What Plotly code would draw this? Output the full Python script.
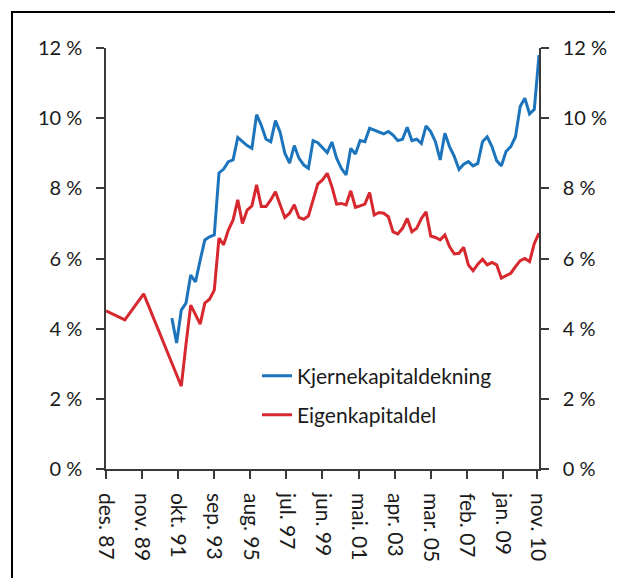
import plotly.graph_objects as go

# ---- data ----
tick_dates = ["1987-12-01", "1989-11-01", "1991-10-01", "1993-09-01", "1995-08-01",
              "1997-07-01", "1999-06-01", "2001-05-01", "2003-04-01", "2005-03-01",
              "2007-02-01", "2009-01-01", "2010-11-01"]
tick_labels = ["des. 87", "nov. 89", "okt. 91", "sep. 93", "aug. 95", "jul. 97", "jun. 99",
               "mai. 01", "apr. 03", "mar. 05", "feb. 07", "jan. 09", "nov. 10"]

quarters = [f"{y}-{m:02d}" for y in range(1991, 2011) for m in (3, 6, 9, 12)]

kjerne_dates = quarters[1:]  # 1991-06 .. 2010-12
kjerne = [4.30, 3.59, 4.53, 4.73, 5.53, 5.33, 5.95, 6.53, 6.62, 6.67,
          8.44, 8.55, 8.76, 8.81, 9.45, 9.33, 9.22, 9.14, 10.10, 9.80,
          9.40, 9.33, 9.93, 9.60, 9.00, 8.72, 9.22, 8.86, 8.67, 8.57,
          9.36, 9.30, 9.17, 9.02, 9.32, 8.86, 8.57, 8.38, 9.14, 8.98,
          9.36, 9.33, 9.71, 9.66, 9.60, 9.55, 9.62, 9.52, 9.36, 9.40,
          9.74, 9.36, 9.40, 9.28, 9.78, 9.62, 9.33, 8.81, 9.57, 9.19,
          8.91, 8.54, 8.69, 8.76, 8.64, 8.71, 9.33, 9.47, 9.19, 8.79,
          8.64, 9.05, 9.19, 9.47, 10.33, 10.57, 10.12, 10.25, 11.80]

eigen_dates = ["1987-12", "1988-12", "1989-12"] + quarters[3:]  # then 1991-12 .. 2010-12
eigen = [4.51, 4.25, 4.99,
         2.36, 3.55, 4.67, 4.40, 4.13, 4.73, 4.84, 5.10,
         6.58, 6.39, 6.81, 7.10, 7.67, 7.00, 7.38, 7.50, 8.10, 7.48,
         7.48, 7.67, 7.90, 7.53, 7.17, 7.29, 7.53, 7.17, 7.12, 7.21,
         7.67, 8.12, 8.24, 8.43, 8.05, 7.55, 7.57, 7.53, 7.93, 7.46,
         7.50, 7.55, 7.88, 7.24, 7.31, 7.29, 7.19, 6.76, 6.70, 6.86,
         7.14, 6.76, 6.86, 7.14, 7.33, 6.64, 6.60, 6.53, 6.67, 6.34,
         6.13, 6.15, 6.32, 5.82, 5.65, 5.84, 5.98, 5.82, 5.89, 5.82,
         5.44, 5.50, 5.58, 5.77, 5.94, 6.00, 5.91, 6.43, 6.72]

y_ticks = [0, 2, 4, 6, 8, 10, 12]
y_labels = ["0 %", "2 %", "4 %", "6 %", "8 %", "10 %", "12 %"]

BLUE = "#1C75BC"
RED = "#D7282F"
FONT = "Lato"
FS = 20

fig = go.Figure()
fig.add_trace(go.Scatter(x=kjerne_dates, y=kjerne, mode="lines", name="Kjernekapitaldekning",
                         line=dict(color=BLUE, width=3), legend="legend"))
fig.add_trace(go.Scatter(x=eigen_dates, y=eigen, mode="lines", name="Eigenkapitaldel",
                         line=dict(color=RED, width=3), legend="legend2"))
# invisible trace to activate right axis
fig.add_trace(go.Scatter(x=[tick_dates[0]], y=[0], yaxis="y2", mode="markers",
                         marker=dict(opacity=0), showlegend=False, hoverinfo="skip"))

axis_common = dict(showgrid=False, zeroline=False, showline=True, linecolor="#3a3a3a",
                   linewidth=1.5, ticks="outside", ticklen=8, tickwidth=1.5,
                   tickcolor="#3a3a3a")

# page body has an 8px margin, so figure coordinates are page coordinates minus 8
OFF = 8
L, R, T, B = 106 - OFF, 539 - OFF, 48 - OFF, 469 - OFF
W, H = 623, 578
LEG_X = 249

fig.update_layout(
    width=W, height=H,
    margin=dict(l=L, r=W - R, t=T, b=H - B, pad=0, autoexpand=False),
    paper_bgcolor="white", plot_bgcolor="white",
    font=dict(family=FONT, size=FS, color="#1a1a1a"),
    xaxis=dict(type="date", range=["1987-12-01", "2010-12-01"], tickvals=tick_dates,
               ticktext=tick_labels, tickangle=90, ticklabelstandoff=10,
               tickfont=dict(family=FONT, size=21, color="#1a1a1a"), **axis_common),
    yaxis=dict(range=[0, 12], tickvals=y_ticks, ticktext=y_labels, ticklabelstandoff=10,
               tickfont=dict(family=FONT, size=FS, color="#1a1a1a"), **axis_common),
    yaxis2=dict(range=[0, 12], tickvals=y_ticks, ticktext=y_labels, overlaying="y",
                side="right", ticklabelstandoff=10,
                tickfont=dict(family=FONT, size=FS, color="#1a1a1a"), **axis_common),
    legend=dict(x=(LEG_X - L) / (R - L), y=(B - (376 - OFF)) / (B - T), xanchor="left",
                yanchor="middle", bgcolor="rgba(0,0,0,0)",
                font=dict(family=FONT, size=21), borderwidth=0),
    legend2=dict(x=(LEG_X - L) / (R - L), y=(B - (415 - OFF)) / (B - T), xanchor="left",
                 yanchor="middle", bgcolor="rgba(0,0,0,0)",
                 font=dict(family=FONT, size=21), borderwidth=0),
    shapes=[dict(type="rect", xref="paper", yref="paper",
                 x0=(12 - OFF - L) / (R - L), x1=(W + 40 - L) / (R - L),
                 y0=(B - (H + 40)) / (B - T), y1=(B - (12 - OFF)) / (B - T),
                 line=dict(color="black", width=2), fillcolor="rgba(0,0,0,0)", layer="below")],
)

fig.write_html("out.html")
